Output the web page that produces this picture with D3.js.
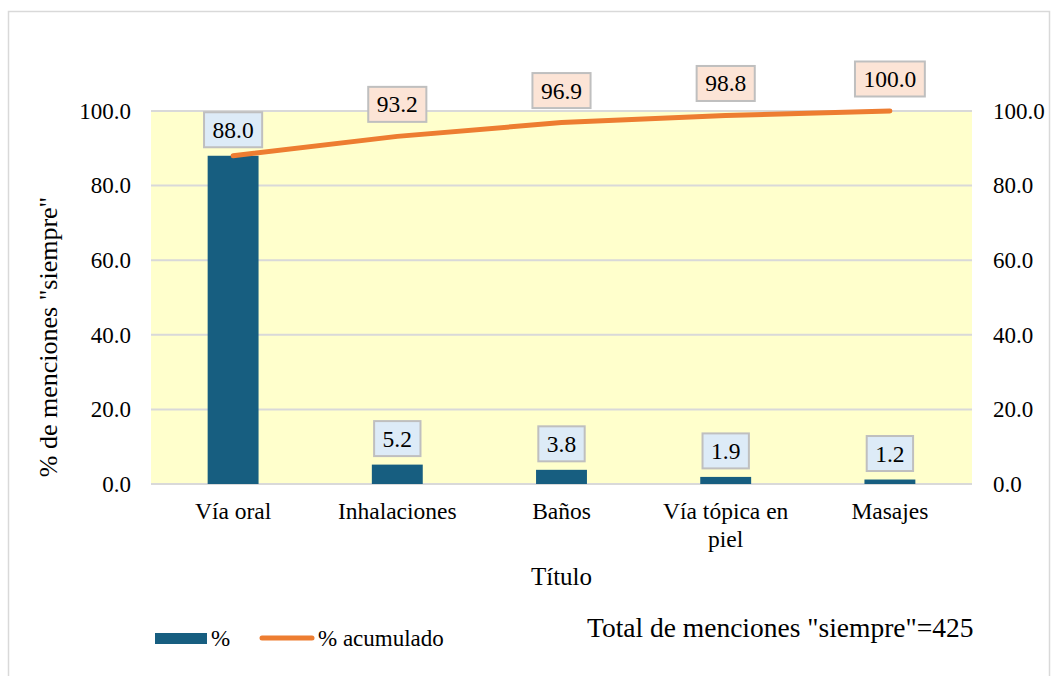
<!DOCTYPE html>
<html>
<head>
<meta charset="utf-8">
<script src="https://cdn.jsdelivr.net/npm/d3@7"></script>
<style>
  body { margin: 0; background: #fff; }
  .chart svg, .chart svg text { font-family: "Liberation Serif", serif; }
</style>
</head>
<body>
<div class="chart"></div>
<script>
var categories = ["Vía oral", "Inhalaciones", "Baños", "Vía tópica en piel", "Masajes"];
var pct = [88.0, 5.2, 3.8, 1.9, 1.2];
var cumPct = [88.0, 93.2, 96.9, 98.8, 100.0];
var yTicks = [0, 20, 40, 60, 80, 100];

var W = 1058, H = 676;
var plot = {left: 151, right: 972, top: 111, bottom: 484};
var FONT = "Liberation Serif";

const svg = d3.select(".chart").append("svg")
    .attr("width", W)
    .attr("height", H)
    .style("font-family", FONT);

// outer frame
svg.append("rect")
    .attr("x", 8.5).attr("y", 11.5)
    .attr("width", 1041).attr("height", 670)
    .attr("fill", "none")
    .attr("stroke", "#d9d9d9")
    .attr("stroke-width", 1.5);

var x = d3.scaleBand()
    .domain(categories)
    .range([plot.left, plot.right]);

var y = d3.scaleLinear()
    .domain([0, 100])
    .range([plot.bottom, plot.top]);

var fmt = d3.format(".1f");

// plot background
svg.append("rect")
    .attr("x", plot.left).attr("y", plot.top)
    .attr("width", plot.right - plot.left)
    .attr("height", plot.bottom - plot.top)
    .attr("fill", "#ffffcc");

// gridlines
svg.append("g")
  .selectAll("line")
  .data(yTicks)
  .enter().append("line")
    .attr("x1", plot.left).attr("x2", plot.right)
    .attr("y1", d => y(d)).attr("y2", d => y(d))
    .attr("stroke", "#d9d9d9")
    .attr("stroke-width", 2);

// left axis
svg.append("g")
    .attr("transform", `translate(${plot.left - 20}, 0)`)
    .call(d3.axisLeft(y).tickValues(yTicks).tickFormat(fmt).tickSize(0).tickPadding(0))
    .attr("font-family", FONT)
    .attr("font-size", 23)
    .call(g => g.select(".domain").remove());

// right axis
svg.append("g")
    .attr("transform", `translate(${plot.right + 21}, 0)`)
    .call(d3.axisRight(y).tickValues(yTicks).tickFormat(fmt).tickSize(0).tickPadding(0))
    .attr("font-family", FONT)
    .attr("font-size", 23)
    .call(g => g.select(".domain").remove());

// bars
var barW = x.bandwidth() * 0.31;
svg.append("g")
  .selectAll("rect")
  .data(pct)
  .enter().append("rect")
    .attr("x", (d, i) => x(categories[i]) + x.bandwidth() / 2 - barW / 2)
    .attr("y", d => y(d))
    .attr("width", barW)
    .attr("height", d => y(0) - y(d))
    .attr("fill", "#175e80");

// cumulative line
var line = d3.line()
    .x((d, i) => x(categories[i]) + x.bandwidth() / 2)
    .y(d => y(d));

svg.append("path")
    .datum(cumPct)
    .attr("d", line)
    .attr("fill", "none")
    .attr("stroke", "#ed7d31")
    .attr("stroke-width", 5)
    .attr("stroke-linecap", "round");

// data label boxes (width from the digit widths of the serif font)
function textW(s, size) {
  return d3.sum(s.split(""), c => c === "." ? 0.25 : 0.5) * size;
}
function addLabels(data, offset, fill, skipFirst) {
  let items = data.map((v, i) => ({v: v, i: i})).filter(d => !(skipFirst && d.i === 0));
  let g = svg.append("g")
    .selectAll("g")
    .data(items)
    .enter().append("g")
    .attr("transform", d => `translate(${x(categories[d.i]) + x.bandwidth() / 2}, ${y(d.v) - offset})`);
  g.append("rect")
    .attr("x", d => -(textW(fmt(d.v), 23.5) + 17) / 2)
    .attr("y", -17.5)
    .attr("width", d => textW(fmt(d.v), 23.5) + 17)
    .attr("height", 35)
    .attr("fill", fill)
    .attr("stroke", "#bfbfbf")
    .attr("stroke-width", 2);
  g.append("text")
    .attr("text-anchor", "middle")
    .attr("dy", "0.34em")
    .attr("font-size", 23.5)
    .text(d => fmt(d.v));
}
addLabels(pct, 26, "#ddebf7", false);
// first cumulative point shares the bar's label
addLabels(cumPct, 32, "#fce4d6", true);

// category labels; long ones are split over two lines
var catLines = categories.map(c => c.length > 14 ? [c.slice(0, c.lastIndexOf(" ")), c.slice(c.lastIndexOf(" ") + 1)] : [c]);

svg.append("g")
  .selectAll("text")
  .data(categories)
  .enter().append("text")
    .attr("text-anchor", "middle")
    .attr("font-size", 23.5)
    .attr("y", 519)
    .each(function(d, i) {
      let cx = x(d) + x.bandwidth() / 2;
      d3.select(this).selectAll("tspan")
        .data(catLines[i])
        .enter().append("tspan")
        .attr("x", cx)
        .attr("dy", (l, j) => j ? 28 : 0)
        .text(l => l);
    });

// axis titles
svg.append("text")
    .attr("x", (plot.left + plot.right) / 2)
    .attr("y", 585)
    .attr("text-anchor", "middle")
    .attr("font-size", 25)
    .text("Título");

svg.append("text")
    .attr("transform", "translate(57, 337) rotate(-90)")
    .attr("text-anchor", "middle")
    .attr("font-size", 26)
    .text('% de menciones "siempre"');

// legend
var legend = svg.append("g");
legend.append("rect")
    .attr("x", 155).attr("y", 633)
    .attr("width", 52).attr("height", 11)
    .attr("fill", "#175e80");
legend.append("text")
    .attr("x", 211).attr("y", 646)
    .attr("font-size", 23)
    .text("%");
legend.append("line")
    .attr("x1", 262).attr("x2", 312)
    .attr("y1", 638).attr("y2", 638)
    .attr("stroke", "#ed7d31")
    .attr("stroke-width", 5)
    .attr("stroke-linecap", "round");
legend.append("text")
    .attr("x", 318).attr("y", 646)
    .attr("font-size", 23)
    .text("% acumulado");

// note
svg.append("text")
    .attr("x", 587).attr("y", 637)
    .attr("font-size", 27.5)
    .text('Total de menciones "siempre"=425');
</script>
</body>
</html>
